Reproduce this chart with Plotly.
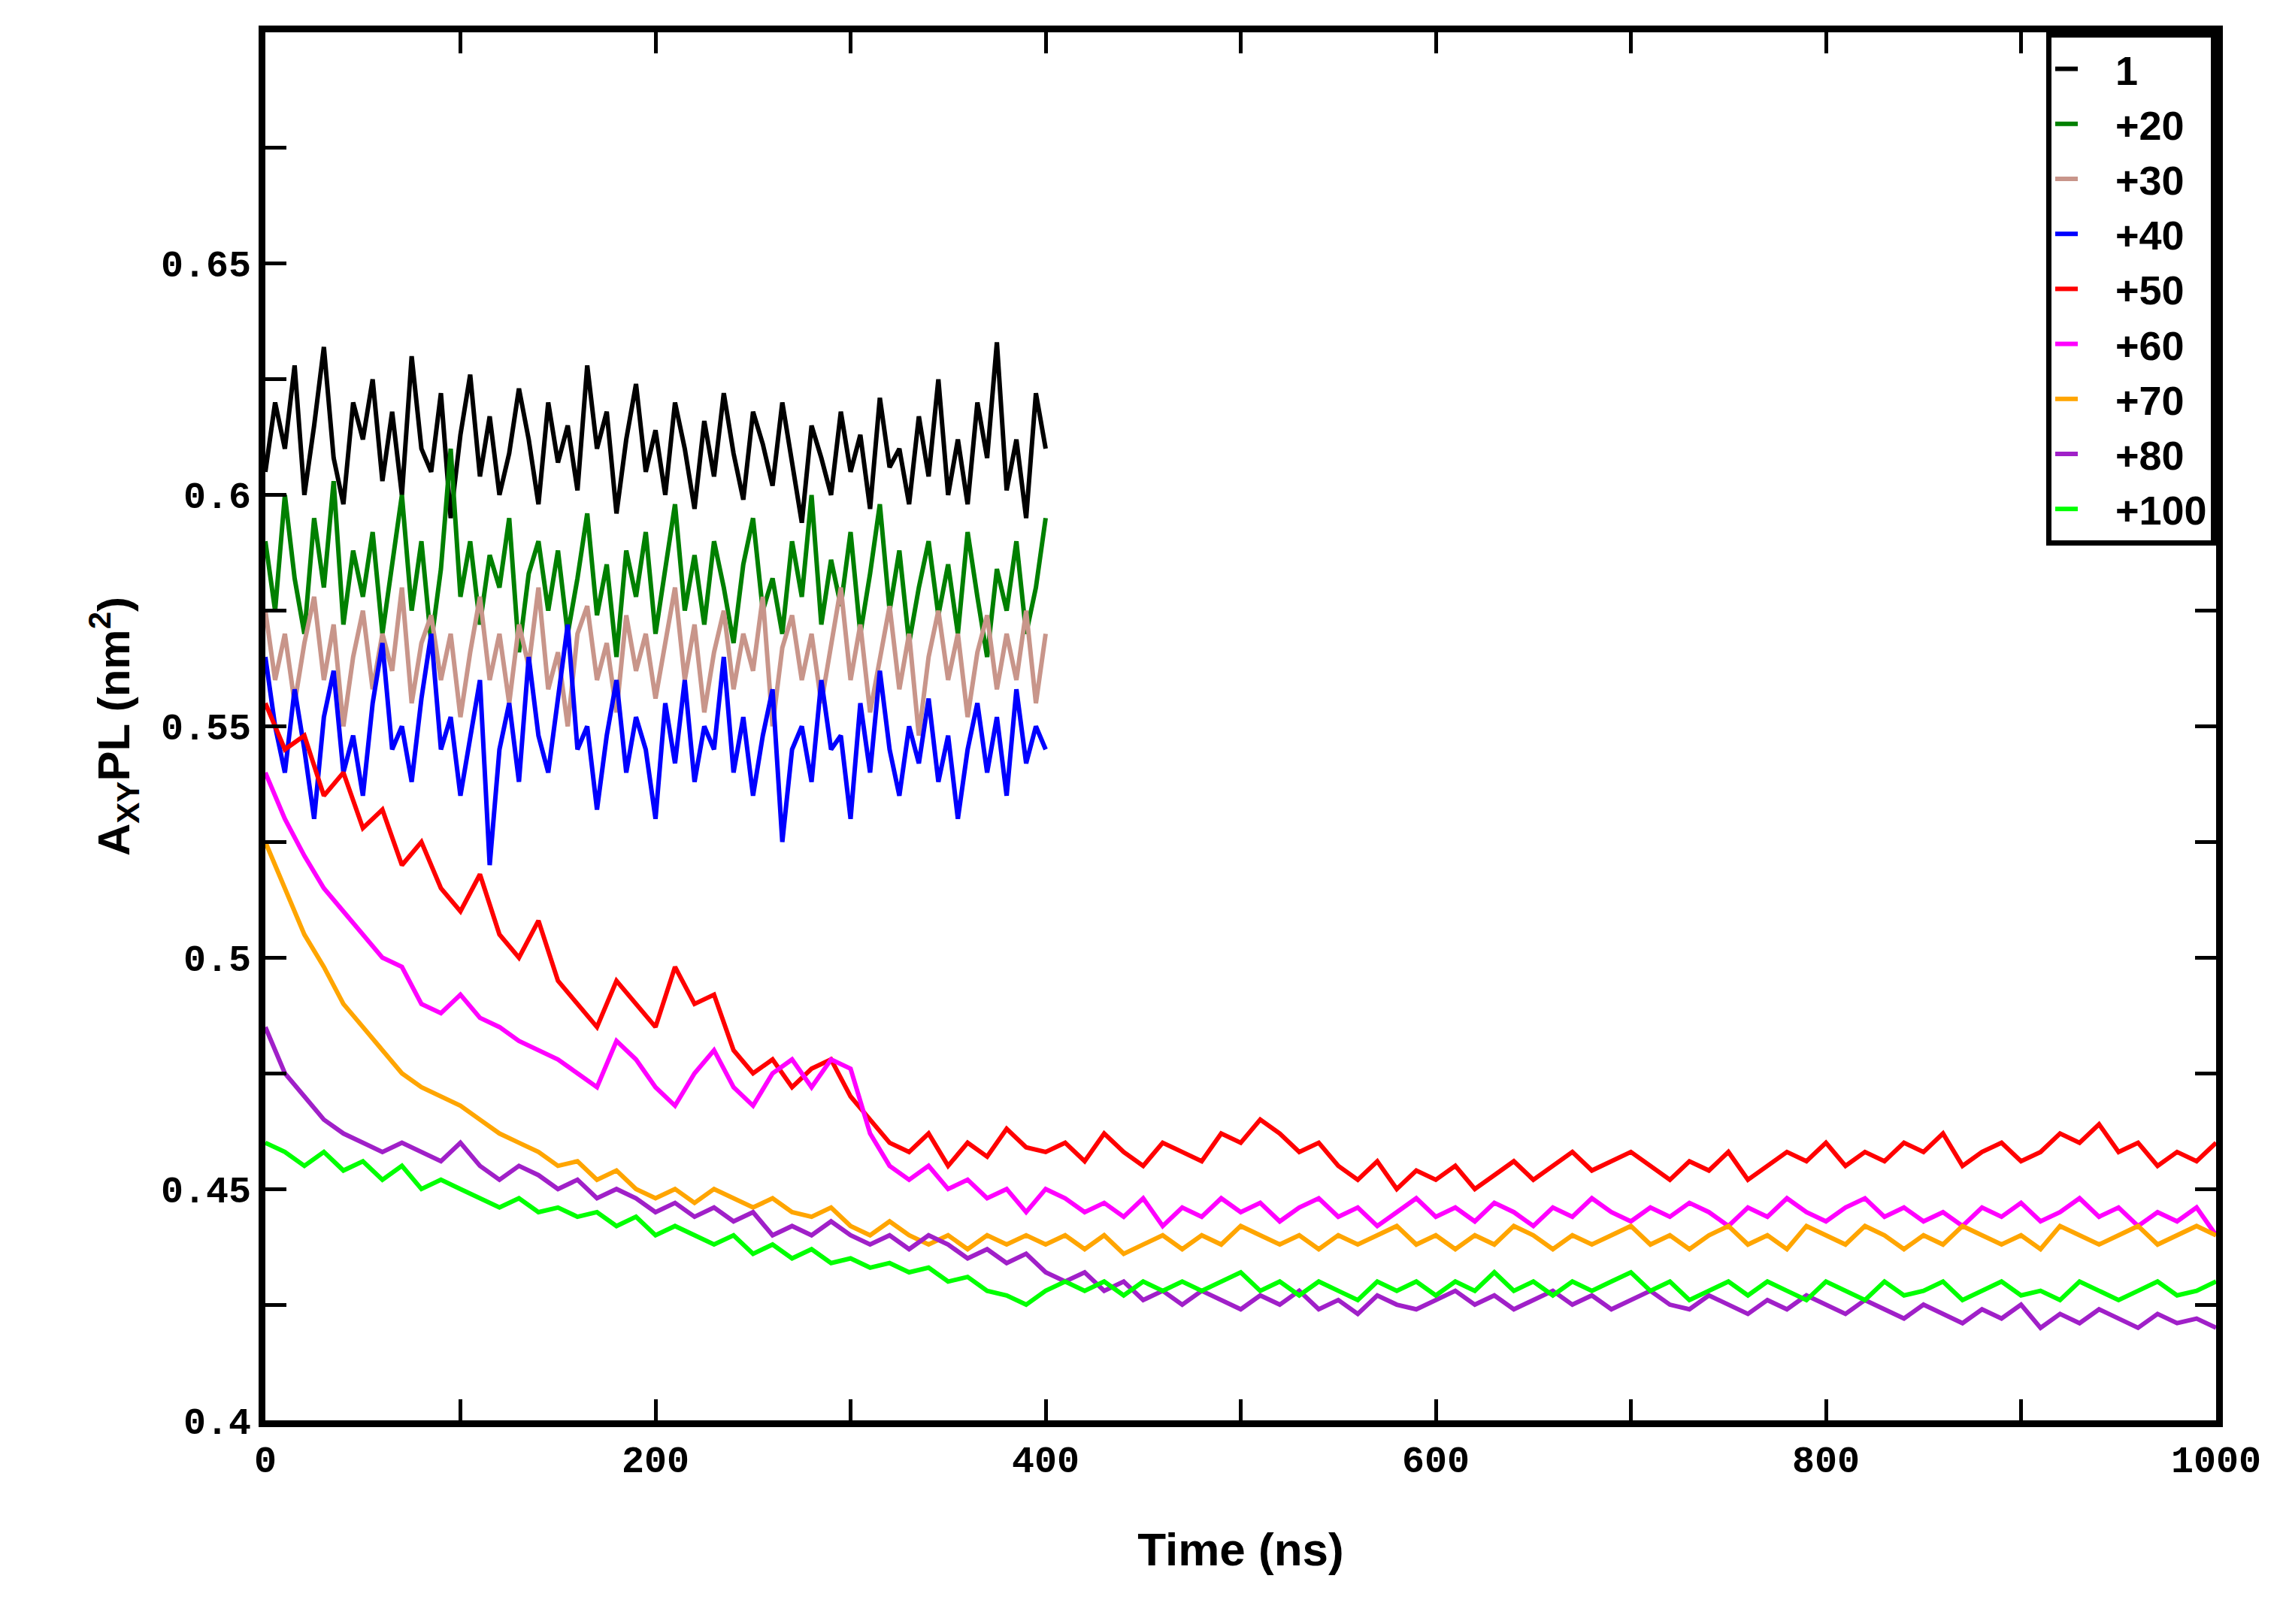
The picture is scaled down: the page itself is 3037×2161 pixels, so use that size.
import numpy as np
import plotly.graph_objects as go

labels = ["1", "+20", "+30", "+40", "+50", "+60", "+70", "+80", "+100"]
colors = ["#000000", "#008000", "#c8958a", "#0000ff", "#ff0000", "#ff00ff", "#ffa500", "#a020c8", "#00ff00"]

s1 = [0.605,0.62,0.61,0.628,0.6,0.615,0.632,0.608,0.598,0.62,0.612,0.625,0.603,0.618,0.6,0.63,0.61,0.605,0.622,0.595,
      0.613,0.626,0.604,0.617,0.6,0.609,0.623,0.612,0.598,0.62,0.607,0.615,0.601,0.628,0.61,0.618,0.596,0.612,0.624,0.605,
      0.614,0.6,0.62,0.61,0.597,0.616,0.604,0.622,0.609,0.599,0.618,0.611,0.602,0.62,0.607,0.594,0.615,0.608,0.6,0.618,
      0.605,0.613,0.597,0.621,0.606,0.61,0.598,0.617,0.604,0.625,0.6,0.612,0.598,0.62,0.608,0.633,0.601,0.612,0.595,0.622,0.61]
s20 = [0.59,0.575,0.6,0.582,0.57,0.595,0.58,0.603,0.572,0.588,0.578,0.592,0.57,0.585,0.6,0.575,0.59,0.568,0.584,0.61,
       0.578,0.59,0.572,0.587,0.58,0.595,0.566,0.583,0.59,0.575,0.588,0.57,0.582,0.596,0.574,0.585,0.565,0.588,0.578,0.592,
       0.57,0.584,0.598,0.575,0.587,0.572,0.59,0.58,0.568,0.585,0.595,0.575,0.582,0.57,0.59,0.578,0.6,0.572,0.586,0.576,
       0.592,0.57,0.583,0.598,0.575,0.588,0.568,0.58,0.59,0.574,0.585,0.57,0.592,0.578,0.565,0.584,0.575,0.59,0.57,0.58,0.595]
s30 = [0.575,0.56,0.57,0.555,0.568,0.578,0.56,0.572,0.55,0.565,0.575,0.558,0.57,0.562,0.58,0.555,0.568,0.574,0.56,0.57,
       0.552,0.566,0.578,0.56,0.57,0.555,0.572,0.563,0.58,0.558,0.566,0.55,0.57,0.576,0.56,0.568,0.553,0.574,0.562,0.57,
       0.556,0.568,0.58,0.56,0.572,0.553,0.566,0.575,0.558,0.57,0.562,0.578,0.55,0.567,0.574,0.56,0.57,0.555,0.568,0.58,
       0.56,0.572,0.553,0.565,0.576,0.558,0.57,0.548,0.565,0.575,0.56,0.57,0.552,0.566,0.574,0.558,0.57,0.56,0.575,0.555,0.57]
s40 = [0.565,0.55,0.54,0.558,0.545,0.53,0.552,0.562,0.54,0.548,0.535,0.555,0.568,0.545,0.55,0.538,0.556,0.57,0.545,0.552,
       0.535,0.548,0.56,0.52,0.545,0.555,0.538,0.565,0.548,0.54,0.556,0.572,0.545,0.55,0.532,0.548,0.56,0.54,0.552,0.545,
       0.53,0.555,0.542,0.56,0.538,0.55,0.545,0.565,0.54,0.552,0.535,0.548,0.558,0.525,0.545,0.55,0.538,0.56,0.545,0.548,
       0.53,0.555,0.54,0.562,0.545,0.535,0.55,0.542,0.556,0.538,0.548,0.53,0.545,0.555,0.54,0.552,0.535,0.558,0.542,0.55,0.545]

s50 = [0.555,0.545,0.548,0.535,0.54,0.528,0.532,0.52,0.525,0.515,0.51,0.518,0.505,0.5,0.508,0.495,0.49,0.485,0.495,0.49,
       0.485,0.498,0.49,0.492,0.48,0.475,0.478,0.472,0.476,0.478,0.47,0.465,0.46,0.458,0.462,0.455,0.46,0.457,0.463,0.459,
       0.458,0.46,0.456,0.462,0.458,0.455,0.46,0.458,0.456,0.462,0.46,0.465,0.462,0.458,0.46,0.455,0.452,0.456,0.45,0.454,
       0.452,0.455,0.45,0.453,0.456,0.452,0.455,0.458,0.454,0.456,0.458,0.455,0.452,0.456,0.454,0.458,0.452,0.455,0.458,0.456,
       0.46,0.455,0.458,0.456,0.46,0.458,0.462,0.455,0.458,0.46,0.456,0.458,0.462,0.46,0.464,0.458,0.46,0.455,0.458,0.456,0.46]
s60 = [0.54,0.53,0.522,0.515,0.51,0.505,0.5,0.498,0.49,0.488,0.492,0.487,0.485,0.482,0.48,0.478,0.475,0.472,0.482,0.478,
       0.472,0.468,0.475,0.48,0.472,0.468,0.475,0.478,0.472,0.478,0.476,0.462,0.455,0.452,0.455,0.45,0.452,0.448,0.45,0.445,
       0.45,0.448,0.445,0.447,0.444,0.448,0.442,0.446,0.444,0.448,0.445,0.447,0.443,0.446,0.448,0.444,0.446,0.442,0.445,0.448,
       0.444,0.446,0.443,0.447,0.445,0.442,0.446,0.444,0.448,0.445,0.443,0.446,0.444,0.447,0.445,0.442,0.446,0.444,0.448,0.445,
       0.443,0.446,0.448,0.444,0.446,0.443,0.445,0.442,0.446,0.444,0.447,0.443,0.445,0.448,0.444,0.446,0.442,0.445,0.443,0.446,0.44]
s70 = [0.525,0.515,0.505,0.498,0.49,0.485,0.48,0.475,0.472,0.47,0.468,0.465,0.462,0.46,0.458,0.455,0.456,0.452,0.454,0.45,
       0.448,0.45,0.447,0.45,0.448,0.446,0.448,0.445,0.444,0.446,0.442,0.44,0.443,0.44,0.438,0.44,0.437,0.44,0.438,0.44,
       0.438,0.44,0.437,0.44,0.436,0.438,0.44,0.437,0.44,0.438,0.442,0.44,0.438,0.44,0.437,0.44,0.438,0.44,0.442,0.438,
       0.44,0.437,0.44,0.438,0.442,0.44,0.437,0.44,0.438,0.44,0.442,0.438,0.44,0.437,0.44,0.442,0.438,0.44,0.437,0.442,
       0.44,0.438,0.442,0.44,0.437,0.44,0.438,0.442,0.44,0.438,0.44,0.437,0.442,0.44,0.438,0.44,0.442,0.438,0.44,0.442,0.44]
s80 = [0.485,0.475,0.47,0.465,0.462,0.46,0.458,0.46,0.458,0.456,0.46,0.455,0.452,0.455,0.453,0.45,0.452,0.448,0.45,0.448,
       0.445,0.447,0.444,0.446,0.443,0.445,0.44,0.442,0.44,0.443,0.44,0.438,0.44,0.437,0.44,0.438,0.435,0.437,0.434,0.436,
       0.432,0.43,0.432,0.428,0.43,0.426,0.428,0.425,0.428,0.426,0.424,0.427,0.425,0.428,0.424,0.426,0.423,0.427,0.425,0.424,
       0.426,0.428,0.425,0.427,0.424,0.426,0.428,0.425,0.427,0.424,0.426,0.428,0.425,0.424,0.427,0.425,0.423,0.426,0.424,0.427,
       0.425,0.423,0.426,0.424,0.422,0.425,0.423,0.421,0.424,0.422,0.425,0.42,0.423,0.421,0.424,0.422,0.42,0.423,0.421,0.422,0.42]
s100 = [0.46,0.458,0.455,0.458,0.454,0.456,0.452,0.455,0.45,0.452,0.45,0.448,0.446,0.448,0.445,0.446,0.444,0.445,0.442,0.444,
        0.44,0.442,0.44,0.438,0.44,0.436,0.438,0.435,0.437,0.434,0.435,0.433,0.434,0.432,0.433,0.43,0.431,0.428,0.427,0.425,
        0.428,0.43,0.428,0.43,0.427,0.43,0.428,0.43,0.428,0.43,0.432,0.428,0.43,0.427,0.43,0.428,0.426,0.43,0.428,0.43,
        0.427,0.43,0.428,0.432,0.428,0.43,0.427,0.43,0.428,0.43,0.432,0.428,0.43,0.426,0.428,0.43,0.427,0.43,0.428,0.426,
        0.43,0.428,0.426,0.43,0.427,0.428,0.43,0.426,0.428,0.43,0.427,0.428,0.426,0.43,0.428,0.426,0.428,0.43,0.427,0.428,0.43]

series = [(s1, 400), (s20, 400), (s30, 400), (s40, 400), (s50, 1000), (s60, 1000), (s70, 1000), (s80, 1000), (s100, 1000)]

fig = go.Figure()
for i in range(9):
    vals, tmax = series[i]
    fig.add_trace(go.Scatter(x=np.linspace(0, tmax, len(vals)), y=vals, mode="lines",
                             name="<b>   " + labels[i] + "</b>", line=dict(color=colors[i], width=6)))

tickfont = dict(family="Liberation Mono", size=50, color="black", weight="bold")
minor = dict(ticks="inside", ticklen=28, tickwidth=5, tickcolor="black")
axis_common = dict(showgrid=False, zeroline=False, ticks="inside", ticklen=28, tickwidth=5,
                   tickcolor="black", mirror="ticks", showline=True, linewidth=9, linecolor="black",
                   tickfont=tickfont)
fig.update_layout(
    width=3037, height=2161, plot_bgcolor="white", paper_bgcolor="white",
    margin=dict(l=345, r=97, t=35, b=279),
    font=dict(family="Liberation Sans", color="black"),
    xaxis=dict(range=[0, 1000], tickvals=[0, 200, 400, 600, 800, 1000],
               minor=dict(tickvals=[100, 300, 500, 700, 900], **minor),
               title=dict(text="<b>Time (ns)</b>", font=dict(size=62), standoff=70), **axis_common),
    yaxis=dict(range=[0.4, 0.7], tickvals=[0.4, 0.45, 0.5, 0.55, 0.6, 0.65],
               ticktext=["0.4", "0.45", "0.5", "0.55", "0.6", "0.65"],
               minor=dict(tickvals=[0.425, 0.475, 0.525, 0.575, 0.625, 0.675], **minor),
               title=dict(text="<b>A<sub>XY</sub>PL (nm<sup>2</sup>)</b>", font=dict(size=60), standoff=25), **axis_common),
    legend=dict(x=1, y=1, xanchor="right", yanchor="top", bordercolor="black", borderwidth=7,
                bgcolor="white", font=dict(size=54, family="Liberation Sans"), tracegroupgap=0),
    showlegend=True,
)
fig.write_html("out.html")
